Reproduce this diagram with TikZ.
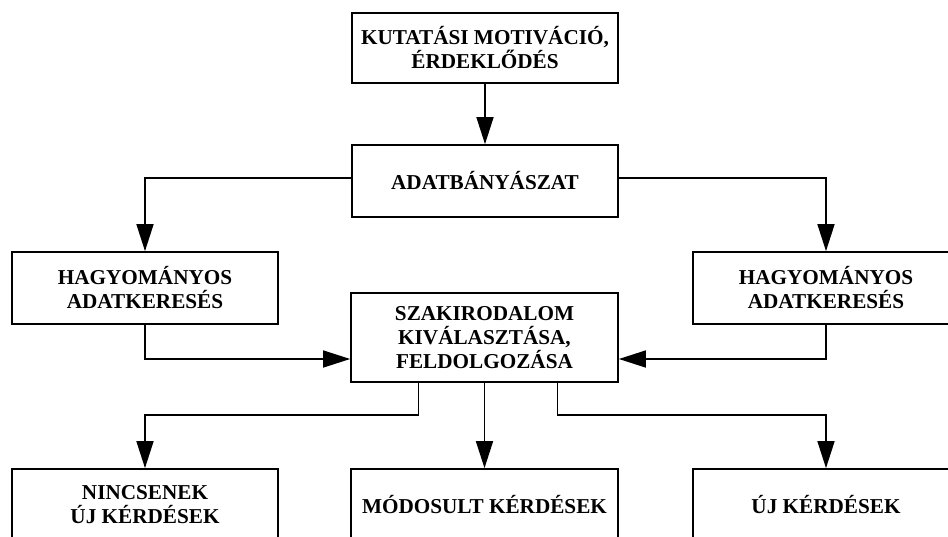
\documentclass[tikz,border=0pt]{standalone}
\usepackage{fontspec}
\setmainfont{Liberation Serif}
\usetikzlibrary{arrows.meta}
\begin{document}
\begin{tikzpicture}[x=1pt,y=-1pt,
  box/.style={draw, line width=1.7pt, rectangle, minimum width=266pt, minimum height=72pt,
    inner sep=0pt, align=center, font=\bfseries\fontsize{21.2}{24}\selectfont},
  conn/.style={line width=1.5pt, -{Triangle[length=27pt,width=17pt]}}]
\clip (0,0) rectangle (948,536);
\fill[white] (0,0) rectangle (948,536);

% boxes
\node[box, minimum height=70pt] (mot) at (485,48) {KUTATÁSI MOTIVÁCIÓ,\\ÉRDEKLŐDÉS};
\node[box] (adat) at (485,181) {ADATBÁNYÁSZAT};
\node[box] (hl) at (145,288) {HAGYOMÁNYOS\\ADATKERESÉS};
\node[box] (hr) at (826,288) {HAGYOMÁNYOS\\ADATKERESÉS};
\node[box, minimum width=267pt, minimum height=89pt] (szak) at (484.5,337.5) {SZAKIRODALOM\\KIVÁLASZTÁSA,\\FELDOLGOZÁSA};
\node[box] (nincs) at (145,505) {NINCSENEK\\ÚJ KÉRDÉSEK};
\node[box, minimum width=267pt] (mod) at (484.5,505) {MÓDOSULT KÉRDÉSEK};
\node[box] (uj) at (826,505) {ÚJ KÉRDÉSEK};

% connectors
\draw[conn] (mot.south) -- (adat.north);
\draw[conn] ([yshift=3pt]adat.west) -| (hl.north);
\draw[conn] ([yshift=3pt]adat.east) -| (hr.north);
\draw[conn] (hl.south) |- ([yshift=-21.5pt]szak.west);
\draw[conn] (hr.south) |- ([yshift=-21.5pt]szak.east);
\draw[conn] ([xshift=-66pt]szak.south) -- ++(0,32) -| (nincs.north);
\draw[conn] (szak.south -| mod.north) -- (mod.north);
\draw[conn] ([xshift=73pt]szak.south) -- ++(0,32) -| (uj.north);
\end{tikzpicture}
\end{document}
